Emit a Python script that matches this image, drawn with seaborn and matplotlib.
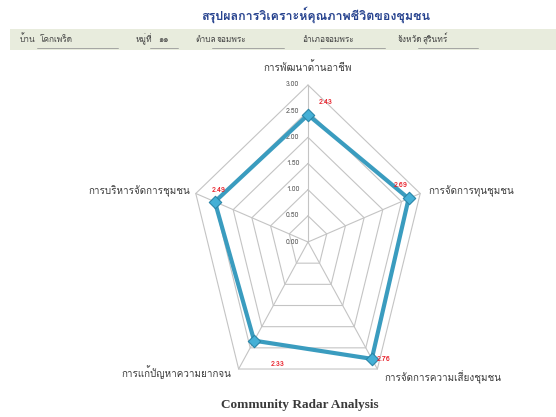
import numpy as np
import matplotlib
matplotlib.use("Agg")
import matplotlib.pyplot as plt
import seaborn as sns
from matplotlib import font_manager
from matplotlib.ft2font import FT2Font

# data
categories = ['การพัฒนาด้านอาชีพ', 'การจัดการทุนชุมชน', 'การจัดการความเสี่ยงชุมชน',
              'การแก้ปัญหาความยากจน', 'การบริหารจัดการชุมชน']
scores = [2.43, 2.69, 2.76, 2.33, 2.49]
ring_levels = [0.0, 0.5, 1.0, 1.5, 2.0, 2.5, 3.0]

title_text = 'สรุปผลการวิเคราะห์คุณภาพชีวิตของชุมชน'
header_labels = ['บ้าน', 'หมู่ที่', 'ตำบล', 'อำเภอ', 'จังหวัด']
header_values = ['โคกเพร็ด', '๑๑', 'จอมพระ', 'จอมพระ', 'สุรินทร์']
footer_text = 'Community Radar Analysis'


def find_thai_font():
    # look for any installed font that has Thai glyphs
    for f in font_manager.fontManager.ttflist:
        try:
            if 0x0E01 in FT2Font(f.fname).get_charmap():
                return f.name
        except Exception:
            pass
    return None


sns.set_theme(style="white")
thai = find_thai_font()
families = [thai, 'DejaVu Sans'] if thai else ['DejaVu Sans']
plt.rcParams['font.family'] = families

W, H = 556, 417
fig = plt.figure(figsize=(W / 100, H / 100), dpi=100)
fig.patch.set_facecolor('white')

# ---- header ----
fig.text(316 / W, 1 - 15 / H, title_text, ha='center', va='center', fontsize=9,
         fontweight='bold', color='#27438f')
band = fig.add_axes([10 / W, 1 - 50 / H, 546 / W, 21 / H])
band.set_facecolor('#e8ecdd')
band.set_xticks([])
band.set_yticks([])
for s in band.spines.values():
    s.set_visible(False)

label_x = [20, 136, 195, 302, 398]
value_x = [40, 158, 217, 325, 423]
line_spans = [(37, 118), (150, 178), (212, 284), (320, 385), (418, 478)]
for lab, val, lx, vx, (u0, u1) in zip(header_labels, header_values, label_x, value_x, line_spans):
    fig.text(lx / W, 1 - 39 / H, lab, ha='left', va='center', fontsize=6, color='#444444')
    fig.text(vx / W, 1 - 39 / H, val, ha='left', va='center', fontsize=6, color='#444444')
    fig.add_artist(plt.Line2D([u0 / W, u1 / W], [1 - 48 / H, 1 - 48 / H], color='#9a9a9a', lw=0.6))

# ---- radar ----
# centre at (308, 242) px; 3.0 units = 157 px vertical, 118 px horizontal
px_x = 118 / 3
px_y = 157 / 3
xr, yr = 4.0, 3.2
ax_w, ax_h = 2 * xr * px_x, 2 * yr * px_y
ax = fig.add_axes([(308 - ax_w / 2) / W, (H - 242 - ax_h / 2) / H, ax_w / W, ax_h / H])
ax.set_xlim(-xr, xr)
ax.set_ylim(-yr, yr)
ax.axis('off')

n = len(categories)
theta = np.arange(n) * 2 * np.pi / n
sx, cy = np.sin(theta), np.cos(theta)

for lv in ring_levels[1:]:
    ax.plot(np.append(sx, sx[0]) * lv, np.append(cy, cy[0]) * lv, color='#c4c4c4', lw=0.8, zorder=1)
for i in range(n):
    ax.plot([0, sx[i] * 3], [0, cy[i] * 3], color='#c4c4c4', lw=0.8, zorder=1)

for lv in ring_levels:
    ax.text(-0.22, lv, f'{lv:.2f}', ha='right', va='center', fontsize=5, color='#555555')

px = list(sx * np.array(scores)) + [sx[0] * scores[0]]
py = list(cy * np.array(scores)) + [cy[0] * scores[0]]
sns.lineplot(x=px, y=py, sort=False, estimator=None, color='#3a9cbf', lw=3, ax=ax, zorder=3)
sns.scatterplot(x=px[:-1], y=py[:-1], marker='D', s=40, color='#45b0d6', edgecolor='#2a86a8',
                linewidth=0.8, ax=ax, zorder=4)

# value labels (red)
val_off = [(0.45, 0.25), (-0.2, 0.25), (0.3, 0.0), (0.6, -0.45), (0.1, 0.22)]
for i, v in enumerate(scores):
    dx, dy = val_off[i]
    ax.text(sx[i] * v + dx, cy[i] * v + dy, f'{v:.2f}', ha='center', va='center',
            fontsize=5.2, fontweight='bold', color='#e8202a', zorder=5)

# category labels
cat_pos = [(0, 3.35, 'center'), (3.05, 0.97, 'left'), (1.95, -2.58, 'left'),
           (-1.95, -2.48, 'right'), (-3.0, 0.97, 'right')]
for lab, (x, y, ha) in zip(categories, cat_pos):
    ax.text(x, y, lab, ha=ha, va='center', fontsize=7.1, color='#3a3a3a')

fig.text(300 / W, 1 - 405 / H, footer_text, ha='center', va='center', fontsize=9.5,
         fontweight='bold', color='#3a3a3a', family=['Liberation Serif', 'DejaVu Serif'])

fig.savefig('out.png', dpi=100)
